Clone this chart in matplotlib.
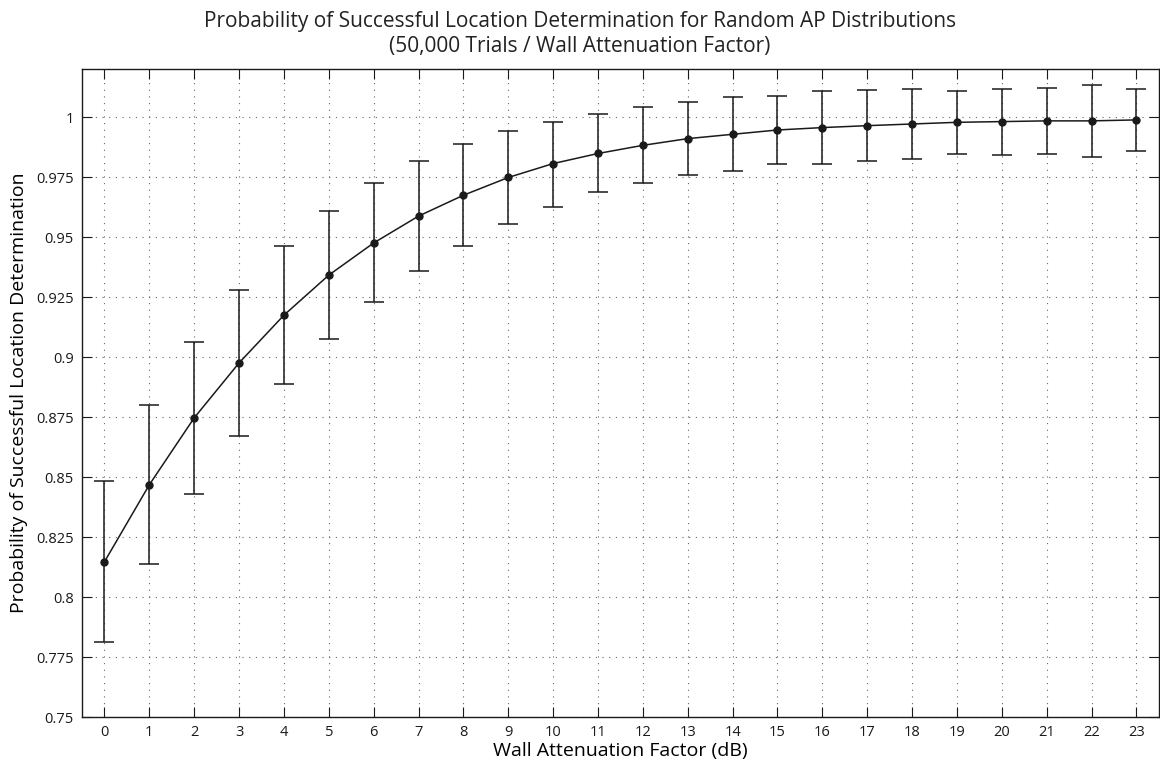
import matplotlib
matplotlib.use("Agg")
import matplotlib.pyplot as plt
import numpy as np

# Wall attenuation factor (dB) and success probability with error bar limits
attenuation = list(range(24))
prob = [0.8147, 0.8468, 0.8747, 0.8976, 0.9175, 0.9342, 0.9476, 0.9588,
        0.9675, 0.9749, 0.9807, 0.9849, 0.9883, 0.9911, 0.9929, 0.9947,
        0.9957, 0.9965, 0.9972, 0.9979, 0.9982, 0.9985, 0.9985, 0.9989]
upper = [0.8485, 0.8800, 0.9063, 0.9282, 0.9463, 0.9608, 0.9726, 0.9817,
         0.9888, 0.9943, 0.9982, 1.0013, 1.0043, 1.0063, 1.0085, 1.0088,
         1.0108, 1.0113, 1.0118, 1.0111, 1.0119, 1.0121, 1.0135, 1.0117]
lower = [0.7811, 0.8137, 0.8429, 0.8671, 0.8888, 0.9075, 0.9229, 0.9358,
         0.9464, 0.9554, 0.9626, 0.9688, 0.9724, 0.9758, 0.9775, 0.9807,
         0.9804, 0.9819, 0.9825, 0.9846, 0.9842, 0.9846, 0.9833, 0.9860]
yticks = [0.75, 0.775, 0.8, 0.825, 0.85, 0.875, 0.9, 0.925, 0.95, 0.975, 1]
ytick_labels = ["0.75", "0.775", "0.8", "0.825", "0.85", "0.875", "0.9",
                "0.925", "0.95", "0.975", "1"]

plt.rcParams['font.family'] = ['Open Sans', 'DejaVu Sans']
plt.rcParams['text.color'] = '#222222'

fig = plt.figure(figsize=(11.6, 7.64), dpi=100)
ax = fig.add_axes([0.0707, 0.0615, 0.9283, 0.8478])

prob = np.array(prob)
yerr = [prob - np.array(lower), np.array(upper) - prob]
ax.errorbar(attenuation, prob, yerr=yerr, color='#1a1a1a', lw=1.1,
            marker='o', markersize=5, capsize=7.2, elinewidth=1.1,
            capthick=1.1, zorder=3)

ax.set_xlim(-0.5, 23.5)
ax.set_ylim(0.75, 1.02)
ax.set_xticks(attenuation)
ax.set_yticks(yticks)
ax.set_yticklabels(ytick_labels)
ax.tick_params(direction='in', length=7, width=0.8, top=True, right=True,
               labelsize=10.5, colors='#1a1a1a', pad=6)
ax.grid(True, linestyle=(0, (1, 5)), color='#666666', linewidth=0.8)
for s in ax.spines.values():
    s.set_linewidth(1.0)
    s.set_color('#1a1a1a')

ax.set_xlabel("Wall Attenuation Factor (dB)", fontsize=14, labelpad=1)
ax.set_ylabel("Probability of Successful Location Determination",
              fontsize=14, labelpad=6)
fig.text(0.5, 0.985,
         "Probability of Successful Location Determination for Random AP Distributions\n"
         "(50,000 Trials / Wall Attenuation Factor)",
         fontsize=15, ha='center', va='top', linespacing=1.25)

fig.savefig("out.png", dpi=100)
